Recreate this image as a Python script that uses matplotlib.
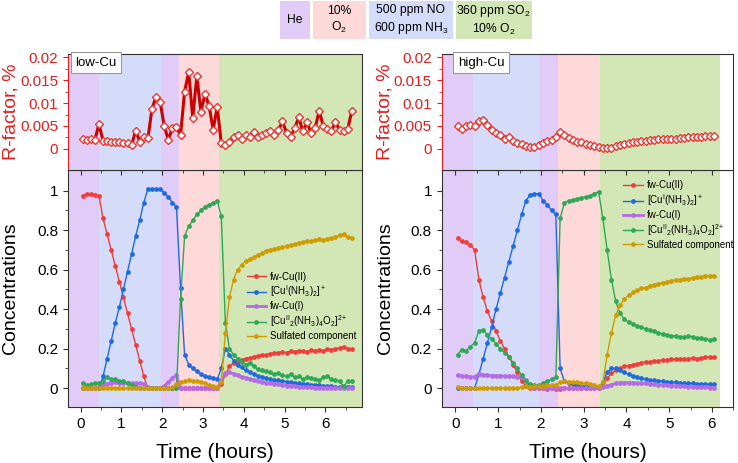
import numpy as np
import matplotlib.pyplot as plt
from matplotlib.patches import Rectangle

plt.rcParams['font.family'] = ['Liberation Sans', 'DejaVu Sans']
plt.rcParams['mathtext.fontset'] = 'custom'
plt.rcParams['mathtext.rm'] = 'Liberation Sans'
plt.rcParams['mathtext.it'] = 'Liberation Sans:italic'
plt.rcParams['mathtext.bf'] = 'Liberation Sans:bold'

# ---- data ----
t_low = np.arange(0.05, 6.7, 0.1)
t_high = np.arange(0.05, 6.1, 0.1)

# gas switch times (hours)
switch_low = [-0.31, 0.45, 1.97, 2.42, 3.40, 6.9]
switch_high = [-0.32, 0.41, 1.95, 2.40, 3.39, 6.2]
gas_names = ['He', '10%\nO$_2$', '500 ppm NO\n600 ppm NH$_3$', '360 ppm SO$_2$\n10% O$_2$']

rf_low = [0.0022, 0.0019, 0.0021, 0.0020, 0.0054, 0.0018, 0.0017, 0.0016, 0.0015, 0.0014,
          0.0013, 0.0012, 0.0008, 0.0040, 0.0016, 0.0027, 0.0023, 0.0087, 0.0114, 0.0103,
          0.0050, 0.0020, 0.0045, 0.0048, 0.0030, 0.0125, 0.0167, 0.0068, 0.0158, 0.0081,
          0.0120, 0.0094, 0.0042, 0.0092, 0.0012, 0.0009, 0.0016, 0.0025, 0.0030, 0.0022,
          0.0030, 0.0027, 0.0036, 0.0025, 0.0030, 0.0034, 0.0038, 0.0030, 0.0041, 0.0060,
          0.0035, 0.0027, 0.0045, 0.0069, 0.0038, 0.0058, 0.0035, 0.0045, 0.0083, 0.0050,
          0.0043, 0.0040, 0.0058, 0.0042, 0.0038, 0.0043, 0.0083]
rf_high = [0.0050, 0.0043, 0.0050, 0.0052, 0.0050, 0.0060, 0.0063, 0.0053, 0.0041, 0.0035,
           0.0030, 0.0022, 0.0025, 0.0017, 0.0012, 0.0010, 0.0006, 0.0004, 0.0005, 0.0009,
           0.0013, 0.0017, 0.0020, 0.0026, 0.0037, 0.0030, 0.0024, 0.0019, 0.0016, 0.0014,
           0.0011, 0.0009, 0.0007, 0.0005, 0.0003, 0.0001, 0.0003, 0.0006, 0.0008, 0.0010,
           0.0012, 0.0014, 0.0015, 0.0017, 0.0018, 0.0019, 0.0020, 0.0021, 0.0021, 0.0022,
           0.0022, 0.0022, 0.0023, 0.0024, 0.0025, 0.0025, 0.0026, 0.0027, 0.0028, 0.0029,
           0.0029]

# low-Cu concentrations
fwcu2_low = [0.975, 0.985, 0.985, 0.98, 0.975,
             0.86, 0.78, 0.70, 0.62, 0.54, 0.46, 0.38, 0.30, 0.22, 0.14, 0.06, 0.0,
             0, 0, 0, 0, 0, 0, 0,
             0, 0, 0, 0, 0, 0, 0, 0, 0, 0,
             0.02, 0.07, 0.11, 0.13, 0.14, 0.145, 0.15, 0.155, 0.16, 0.165,
             0.17, 0.17, 0.175, 0.18, 0.18, 0.185, 0.18, 0.19, 0.185, 0.19,
             0.19, 0.185, 0.195, 0.19, 0.195, 0.19, 0.2, 0.195, 0.2, 0.205,
             0.21, 0.2, 0.2]
cunh3_low = [0, 0, 0, 0, 0,
             0.06, 0.15, 0.24, 0.33, 0.41, 0.50, 0.59, 0.68, 0.77, 0.85, 0.94, 1.01,
             1.01, 1.01, 1.01, 0.99, 0.97, 0.94, 0.92,
             0.51, 0.17, 0.12, 0.10, 0.085, 0.07, 0.062, 0.055, 0.05, 0.045,
             0.10, 0.20, 0.17, 0.14, 0.12, 0.105, 0.09, 0.08, 0.07, 0.063,
             0.057, 0.052, 0.047, 0.043, 0.04, 0.037, 0.034, 0.031, 0.028, 0.025,
             0.022, 0.02, 0.018, 0.016, 0.014, 0.012, 0.01, 0.009, 0.008, 0.007,
             0.006, 0.005, 0.005]
fwcu1_low = [0, 0, 0, 0, 0.005,
             0.015, 0.022, 0.027, 0.03, 0.028, 0.026, 0.025, 0.025, 0.025, 0.024, 0.02, 0.005,
             0, 0, 0, 0.01, 0.03, 0.05, 0.065,
             0, 0, 0, 0, 0, 0, 0, 0, 0, 0,
             0.04, 0.075, 0.08, 0.072, 0.065, 0.058, 0.052, 0.046, 0.041, 0.036,
             0.032, 0.028, 0.025, 0.022, 0.019, 0.016, 0.013, 0.011, 0.009, 0.007,
             0.006, 0.005, 0.004, 0.003, 0.002, 0.002, 0.001, 0.001, 0, 0,
             0, 0, 0]
dimer_low = [0.025, 0.015, 0.02, 0.025, 0.028,
             0.035, 0.055, 0.045, 0.045, 0.038, 0.035, 0.028, 0.015, 0.005, 0, 0, 0,
             0, 0, 0, 0, 0, 0, 0,
             0.45, 0.77, 0.82, 0.85, 0.88, 0.90, 0.92, 0.93, 0.94, 0.95,
             0.87, 0.33, 0.20, 0.17, 0.15, 0.135, 0.12, 0.13, 0.11, 0.095,
             0.09, 0.085, 0.08, 0.07, 0.075, 0.065, 0.06, 0.07, 0.055, 0.06,
             0.045, 0.055, 0.05, 0.045, 0.04, 0.055, 0.06, 0.045, 0.04, 0.035,
             0.01, 0.035, 0.035]
sulf_low = [0, 0, 0, 0, 0, 0, 0, 0, 0, 0,
            0, 0, 0, 0, 0, 0, 0, 0, 0, 0,
            0, 0,
            0.005, 0.02, 0.03, 0.035, 0.04, 0.038, 0.035, 0.033, 0.025, 0.015, 0.01, 0.005,
            0.03, 0.28, 0.46, 0.55, 0.60, 0.625, 0.645, 0.655, 0.665, 0.675,
            0.685, 0.695, 0.70, 0.705, 0.71, 0.715, 0.72, 0.725, 0.73, 0.735,
            0.74, 0.745, 0.745, 0.75, 0.755, 0.75, 0.755, 0.76, 0.765, 0.775,
            0.78, 0.765, 0.76]

# high-Cu concentrations
fwcu2_high = [0.76, 0.745, 0.74, 0.725, 0.70,
              0.55, 0.46, 0.39, 0.34, 0.29, 0.24, 0.20, 0.16, 0.12, 0.08,
              0.035, 0.01, 0.0, 0.0, 0.0, 0.0, -0.002, 0.0, -0.003, -0.003,
              0, 0, 0, 0, 0, 0, 0, 0, 0,
              0.01, 0.05, 0.075, 0.09, 0.10, 0.11, 0.115, 0.12, 0.125, 0.13,
              0.133, 0.135, 0.138, 0.14, 0.143, 0.145, 0.147, 0.148, 0.149, 0.15,
              0.15, 0.152, 0.15, 0.154, 0.156, 0.157, 0.158]
cunh3_high = [0, 0, 0, 0, 0,
              0.07, 0.15, 0.23, 0.31, 0.40, 0.48, 0.56, 0.64, 0.72, 0.80,
              0.88, 0.95, 0.98, 0.985, 0.985, 0.95, 0.93, 0.90, 0.88, 0.10,
              0.035, 0.025, 0.02, 0.015, 0.012, 0.01, 0.008, 0.006, 0.005,
              0.03, 0.08, 0.10, 0.10, 0.09, 0.08, 0.07, 0.062, 0.056, 0.05,
              0.046, 0.043, 0.04, 0.037, 0.035, 0.033, 0.031, 0.029, 0.027, 0.026,
              0.025, 0.024, 0.023, 0.022, 0.021, 0.02, 0.02]
fwcu1_high = [0.065, 0.062, 0.06, 0.057, 0.058,
              0.072, 0.067, 0.065, 0.064, 0.063, 0.062, 0.061, 0.06, 0.06, 0.058,
              0.055, 0.04, 0.01, 0.003, 0, 0, 0, 0, 0, 0,
              0, 0, 0, 0, 0, 0, 0, 0, 0,
              0.005, 0.012, 0.018, 0.024, 0.027, 0.028, 0.028, 0.027, 0.026, 0.025,
              0.024, 0.022, 0.02, 0.018, 0.017, 0.015, 0.013, 0.012, 0.01, 0.009,
              0.008, 0.007, 0.006, 0.005, 0.004, 0.003, 0.002]
dimer_high = [0.17, 0.195, 0.19, 0.21, 0.23,
              0.29, 0.295, 0.27, 0.25, 0.225, 0.20, 0.18, 0.16, 0.13, 0.10,
              0.065, 0.035, 0.02, 0.015, 0.015, 0.025, 0.035, 0.045, 0.055, 0.86,
              0.94, 0.95, 0.955, 0.96, 0.965, 0.97, 0.975, 0.985, 0.995,
              0.86, 0.70, 0.55, 0.44, 0.38, 0.35, 0.335, 0.325, 0.315, 0.31,
              0.30, 0.295, 0.29, 0.28, 0.275, 0.27, 0.265, 0.265, 0.26, 0.26,
              0.265, 0.26, 0.255, 0.255, 0.25, 0.245, 0.25]
sulf_high = [0.005, 0, 0, 0, 0, 0, 0, 0, 0, 0, 0, 0, 0, 0, 0,
             0.005, 0.012, 0.008, 0.01, 0.01, 0.012, 0.014, 0.015, 0.016, 0.03,
             0.036, 0.034, 0.03, 0.03, 0.027, 0.025, 0.022, 0.018, 0.01,
             0.03, 0.17, 0.28, 0.37, 0.42, 0.45, 0.47, 0.485, 0.495, 0.505,
             0.51, 0.52, 0.525, 0.53, 0.535, 0.54, 0.545, 0.55, 0.55, 0.555,
             0.555, 0.56, 0.565, 0.565, 0.57, 0.57, 0.57]

labels = ['fw-Cu(II)',
          r'[Cu$^{\mathrm{I}}$(NH$_3$)$_2$]$^+$',
          'fw-Cu(I)',
          r'[Cu$^{\mathrm{II}}$$_2$(NH$_3$)$_4$O$_2$]$^{2+}$',
          'Sulfated component']
line_colors = ['#F23B3B', '#1F6AE0', '#B56BE6', '#2FA856', '#CF9C00']
gas_colors = ['#E1CCF8', '#FDD9DA', '#D5DCFA', '#D3E6B5']
span_colors = ['#E1CCF8', '#D5DCFA', '#E1CCF8', '#FDD9DA', '#D3E6B5']

fig = plt.figure(figsize=(7.38, 4.63), dpi=100)

panels = [
    (0.0921, 0.3984, t_low, rf_low, [fwcu2_low, cunh3_low, fwcu1_low, dimer_low, sulf_low],
     switch_low, 'low-Cu', 0.095, (0.585, 0.6)),
    (0.5985, 0.3951, t_high, rf_high, [fwcu2_high, cunh3_high, fwcu1_high, dimer_high, sulf_high],
     switch_high, 'high-Cu', 0.135, (0.6, 0.985)),
]

for x0, w, t, rf, conc, sw, name, name_x, leg_pos in panels:
    ax_rf = fig.add_axes([x0, 0.6328, w, 0.2506])
    ax = fig.add_axes([x0, 0.121, w, 0.5118])
    ax_rf.set_zorder(2)

    for a in (ax_rf, ax):
        for i in range(len(sw) - 1):
            a.axvspan(sw[i], sw[i + 1], color=span_colors[i], lw=0, zorder=0)
        a.set_xlim(sw[0], sw[-1])
        for s in a.spines.values():
            s.set_color('#333333')

    # R-factor panel
    ax_rf.plot(t, rf, '-D', color='#CC0000', lw=2.2, ms=4.5, mfc='white',
               mec='#E53935', mew=1.0)
    ax_rf.set_ylim(-0.0046, 0.0207)
    ax_rf.set_yticks([0, 0.005, 0.01, 0.015, 0.02])
    ax_rf.set_yticklabels(['0', '0.005', '0.01', '0.015', '0.02'])
    ax_rf.set_yticks([0.0025, 0.0075, 0.0125, 0.0175], minor=True)
    ax_rf.tick_params(axis='y', which='both', colors='#E02020', labelsize=11, direction='out')
    ax_rf.tick_params(axis='x', which='both', labelbottom=False, direction='out', colors='#333333')
    ax_rf.set_xticks(range(7))
    ax_rf.set_xticks(np.arange(0.5, 6.6, 1.0), minor=True)
    ax_rf.spines['left'].set_color('#E02020')
    ax_rf.set_ylabel('R-factor, %', color='#E02020', fontsize=14)
    ax_rf.yaxis.set_label_coords(-0.165, 0.5)
    ax_rf.text(name_x, 0.925, name, transform=ax_rf.transAxes, ha='center', va='center',
               fontsize=9.5, bbox=dict(boxstyle='square,pad=0.35', fc='white', ec='#999999', lw=0.8))

    # concentration panel
    for y, lab, col in zip(conc, labels, line_colors):
        lw = 2.0 if lab == 'fw-Cu(I)' else 1.0
        ax.plot(t, y, '-o', color=col, lw=lw, ms=2.4, label=lab)
    ax.set_ylim(-0.095, 1.105)
    ax.set_yticks([0, 0.2, 0.4, 0.6, 0.8, 1])
    ax.set_yticklabels(['0', '0.2', '0.4', '0.6', '0.8', '1'])
    ax.set_yticks(np.arange(0.1, 1.05, 0.2), minor=True)
    ax.set_xticks(range(7))
    ax.set_xticks(np.arange(0.5, 6.6, 1.0), minor=True)
    ax.tick_params(which='both', direction='out', labelsize=11, colors='#333333')
    ax.tick_params(axis='both', labelcolor='black')
    ax.set_ylabel('Concentrations', fontsize=14)
    ax.yaxis.set_label_coords(-0.165, 0.5)
    ax.set_xlabel('Time (hours)', fontsize=15)
    ax.xaxis.set_label_coords(0.5, -0.15)
    ax.legend(loc='upper left', bbox_to_anchor=leg_pos, frameon=False, fontsize=7,
              handlelength=2.0, labelspacing=0.2, handletextpad=0.4, borderpad=0.2)

# gas composition key at the top
key_x = [(0.3794, 0.4200), (0.4241, 0.4955), (0.5000, 0.6138), (0.6175, 0.7205)]
for (xa, xb), col, txt in zip(key_x, gas_colors, gas_names):
    fig.add_artist(Rectangle((xa, 0.9158), xb - xa, 0.082, transform=fig.transFigure,
                             color=col, lw=0))
    fig.text((xa + xb) / 2, 0.957, txt, ha='center', va='center', fontsize=8.7,
             linespacing=1.3)

fig.savefig('out.png', dpi=100)
